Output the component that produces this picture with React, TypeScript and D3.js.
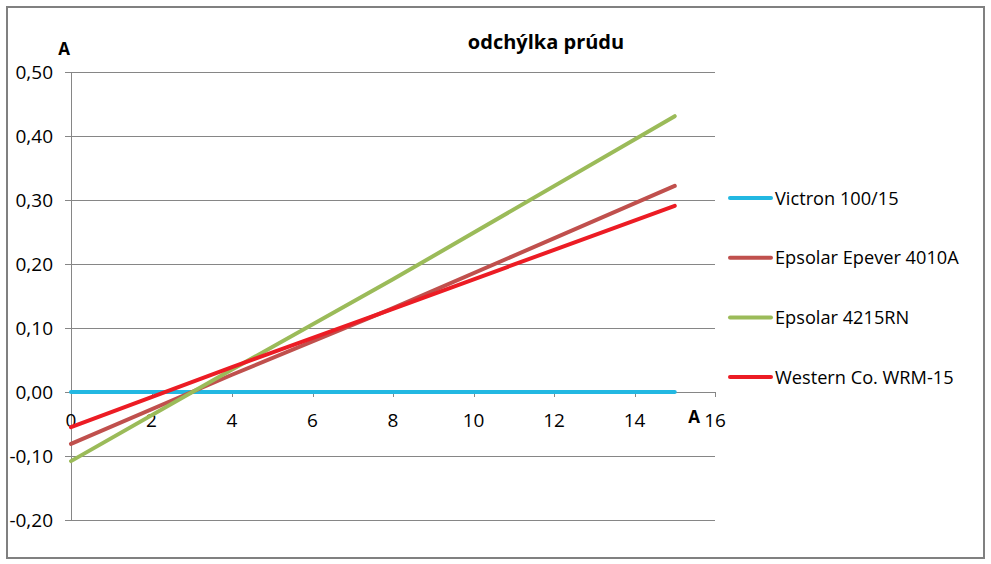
import React from "react";
import * as d3 from "d3";

const xTicks = [0, 2, 4, 6, 8, 10, 12, 14, 16];
const yTicks = [-0.2, -0.1, 0, 0.1, 0.2, 0.3, 0.4, 0.5];

const seriesNames = ["Victron 100/15", "Epsolar Epever 4010A", "Epsolar 4215RN", "Western Co. WRM-15"];
const seriesColors = ["#22B8E2", "#C0504D", "#9BBB59", "#EC1C24"];
const xValues = [0, 4, 8, 15];
const victron = [0, 0, 0, 0];
const epever = [-0.081, 0.027, 0.131, 0.322];
const epsolar = [-0.108, 0.035, 0.176, 0.431];
const western = [-0.055, 0.039, 0.13, 0.291];
const seriesValues = [victron, epever, epsolar, western];

const W = 991;
const H = 564;
const plot = { left: 71, right: 715, top: 72, bottom: 520 };
const font = "'Open Sans', sans-serif";

export default function App() {
  const x = d3.scaleLinear().domain([0, 16]).range([plot.left, plot.right]);
  const y = d3.scaleLinear().domain([-0.2, 0.5]).range([plot.bottom, plot.top]);
  const line = d3
    .line<[number, number]>()
    .x((d) => x(d[0]))
    .y((d) => y(d[1]));
  const fmt = (v: number) => v.toFixed(2).replace(".", ",");

  return (
    <div style={{ position: "absolute", left: 0, top: 0, background: "#fff" }}>
      <svg width={W} height={H} style={{ display: "block", fontFamily: font }}>
        <rect x={0} y={0} width={W} height={H} fill="#fff" />
        <rect x={7} y={7} width={977} height={551} fill="none" stroke="#808080" strokeWidth={2} />
        {/* gridlines */}
        {yTicks.map((t) => (
          <line key={"g" + t} x1={plot.left - 6} x2={plot.right} y1={Math.round(y(t)) + 0.5} y2={Math.round(y(t)) + 0.5} stroke="#868686" strokeWidth={1} />
        ))}
        {/* y axis */}
        <line x1={plot.left + 0.5} x2={plot.left + 0.5} y1={plot.top} y2={plot.bottom} stroke="#868686" />
        {/* x axis ticks */}
        {xTicks.map((t) => (
          <line key={"xt" + t} x1={Math.round(x(t)) + 0.5} x2={Math.round(x(t)) + 0.5} y1={Math.round(y(0))} y2={Math.round(y(0)) + 5} stroke="#868686" />
        ))}
        {/* y labels */}
        {yTicks.map((t) => (
          <text key={"yl" + t} x={53} y={y(t) + 6.5} textAnchor="end" fontSize={19} fill="#000">
            {fmt(t)}
          </text>
        ))}
        {/* x labels */}
        {xTicks.map((t) => (
          <text key={"xl" + t} x={x(t)} y={427} textAnchor="middle" fontSize={19} fill="#000">
            {t}
          </text>
        ))}
        <text x={64} y={55} textAnchor="middle" fontSize={17} fontWeight="bold">A</text>
        <text x={694} y={423} textAnchor="middle" fontSize={17} fontWeight="bold">A</text>
        <text x={546} y={49} textAnchor="middle" fontSize={20} fontWeight="bold">odchýlka prúdu</text>
        {/* series */}
        {seriesValues.map((vals, i) => (
          <path
            key={"s" + i}
            d={line(xValues.map((xv, j) => [xv, vals[j]] as [number, number])) || ""}
            fill="none"
            stroke={seriesColors[i]}
            strokeWidth={4}
            strokeLinecap="round"
            strokeLinejoin="round"
          />
        ))}
        {/* legend */}
        {seriesNames.map((name, i) => {
          const ly = 198 + i * 59.7;
          return (
            <g key={"lg" + i}>
              <line x1={730} x2={771} y1={ly} y2={ly} stroke={seriesColors[i]} strokeWidth={4} strokeLinecap="round" />
              <text x={775} y={ly + 6.5} fontSize={18.2} fill="#000">{name}</text>
            </g>
          );
        })}
      </svg>
    </div>
  );
}
